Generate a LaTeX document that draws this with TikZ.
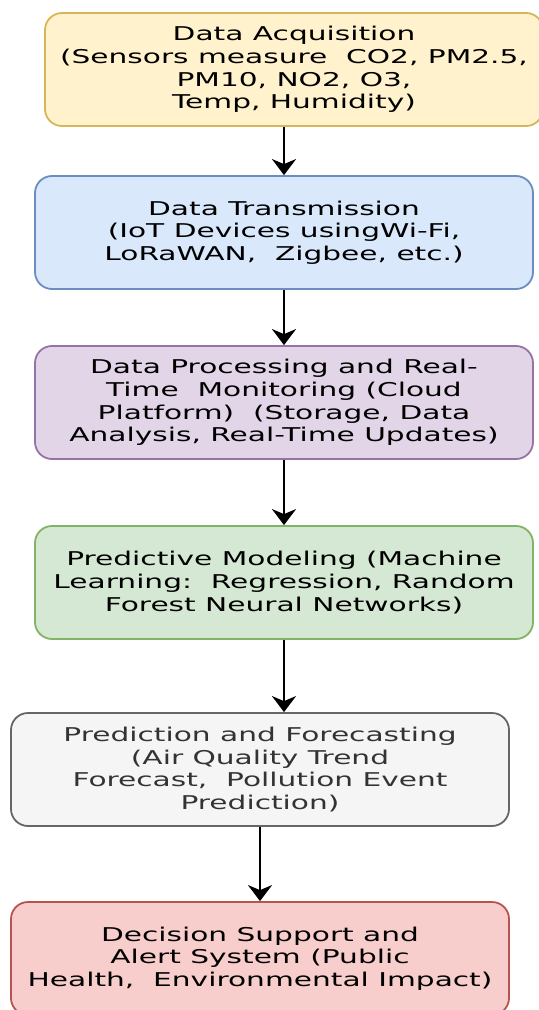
\documentclass[tikz,border=0pt]{standalone}
\usepackage{fontspec}
\setmainfont{DejaVu Sans}[FakeStretch=1.56]
\usepackage{tikz}
\usetikzlibrary{arrows.meta}
\usetikzlibrary{positioning}

\definecolor{yelfill}{HTML}{FFF2CC}
\definecolor{yeldraw}{HTML}{D6B656}
\definecolor{bluefill}{HTML}{DAE8FC}
\definecolor{bluedraw}{HTML}{6C8EBF}
\definecolor{purfill}{HTML}{E1D5E7}
\definecolor{purdraw}{HTML}{9673A6}
\definecolor{grnfill}{HTML}{D5E8D4}
\definecolor{grndraw}{HTML}{82B366}
\definecolor{greyfill}{HTML}{F5F5F5}
\definecolor{greydraw}{HTML}{666666}
\definecolor{greytext}{HTML}{333333}
\definecolor{redfill}{HTML}{F8CECC}
\definecolor{reddraw}{HTML}{B85450}

\begin{document}
\begin{tikzpicture}[x=0.5pt,y=-0.5pt,
	stage/.style={rectangle,rounded corners=8.5pt,line width=0.9pt,minimum width=249pt,minimum height=56.5pt,align=center,inner sep=0pt,font=\fontsize{9.5}{11.3}\selectfont},
	flow/.style={-{Stealth[length=8pt,width=12pt,inset=2.5pt]},line width=1.2pt}]
	\useasboundingbox (0,0) rectangle (538,1010);
	\node [stage,fill=yelfill,draw=yeldraw] (acq) at (294,69.5) {Data Acquisition\\(Sensors measure\ \ CO2, PM2.5,\\PM10, NO2, O3,\\Temp, Humidity)};
	\node [stage,fill=bluefill,draw=bluedraw] (trans) at (284,232.5) {Data Transmission\\(IoT Devices usingWi-Fi,\\LoRaWAN,\ \ Zigbee, etc.)};
	\node [stage,fill=purfill,draw=purdraw] (proc) at (284,402.5) {Data Processing and Real-\\Time\ \ Monitoring (Cloud\\Platform)\ \ (Storage, Data\\Analysis, Real-Time Updates)};
	\node [stage,fill=grnfill,draw=grndraw] (model) at (284,582.5) {Predictive Modeling (Machine\\Learning:\ \ Regression, Random\\Forest Neural Networks)};
	\node [stage,fill=greyfill,draw=greydraw,text=greytext] (pred) at (260,769.5) {Prediction and Forecasting\\(Air Quality Trend\\Forecast,\ \ Pollution Event\\Prediction)};
	\node [stage,fill=redfill,draw=reddraw] (alert) at (260,958.5) {Decision Support and\\Alert System (Public\\Health,\ \ Environmental Impact)};
	% connectors
	\draw [flow] (acq.south -| trans) -- (trans.north);
	\draw [flow] (trans) -- (proc);
	\draw [flow] (proc) -- (model);
	\draw [flow] (model.south) -- (model.south |- pred.north);
	\draw [flow] (pred) -- (alert);
\end{tikzpicture}
\end{document}
